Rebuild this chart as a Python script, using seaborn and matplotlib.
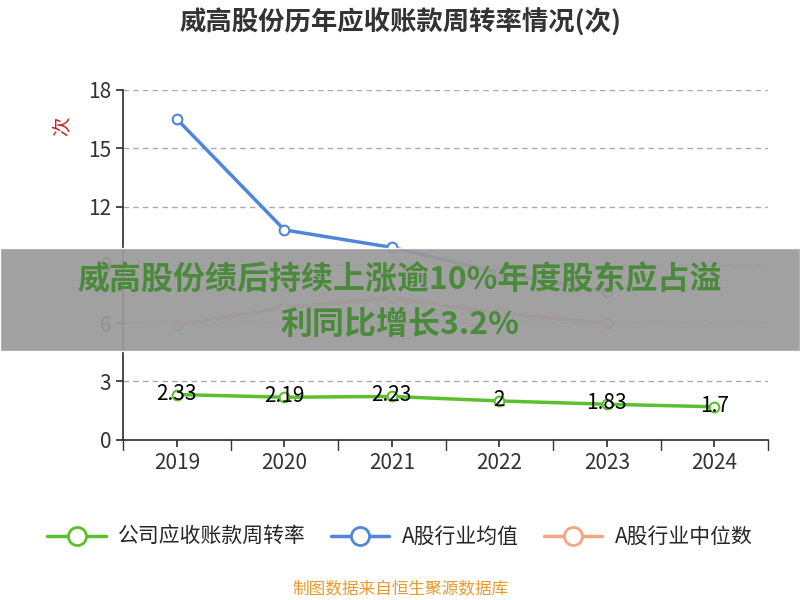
import matplotlib
matplotlib.use("Agg")
import matplotlib.pyplot as plt
import seaborn as sns
import numpy as np
import pandas as pd
from matplotlib.patches import Rectangle
from matplotlib.lines import Line2D

sns.set_theme(style="white")
plt.rcParams['font.family'] = ['Noto Sans CJK SC', 'DejaVu Sans']

years = ["2019", "2020", "2021", "2022", "2023", "2024"]
company = [2.33, 2.19, 2.23, 2.0, 1.83, 1.7]
industry_avg = [16.5, 10.8, 9.9, 8.6, 7.6, np.nan]
industry_med = [5.9, 6.8, 7.3, 6.5, 6.0, np.nan]
labels = ["2.33", "2.19", "2.23", "2", "1.83", "1.7"]

fig = plt.figure(figsize=(8, 6), dpi=100)
ax = fig.add_axes([0.154, 0.267, 0.806, 0.583])
x = np.arange(len(years))
df = pd.DataFrame({"x": x, "c": company, "a": industry_avg, "m": industry_med})
sns.lineplot(data=df, x="x", y="m", ax=ax, color="#f4a582", lw=2.5, marker="o",
             markersize=7, markerfacecolor="white", markeredgecolor="#f4a582", markeredgewidth=1.5)
sns.lineplot(data=df, x="x", y="a", ax=ax, color="#4f86d9", lw=2.5, marker="o",
             markersize=7, markerfacecolor="white", markeredgecolor="#4f86d9", markeredgewidth=1.5)
sns.lineplot(data=df, x="x", y="c", ax=ax, color="#5cc02c", lw=2.5, marker="o",
             markersize=7, markerfacecolor="white", markeredgecolor="#5cc02c", markeredgewidth=1.5)
for xi, v, t in zip(x, company, labels):
    ax.text(xi, v + 0.05, t, ha="center", va="center", fontsize=15, color="black", zorder=5)

ax.set_xlim(-0.5, 5.5)
ax.set_ylim(0, 18)
ax.set_yticks([0, 3, 6, 9, 12, 15, 18])
ax.set_xticks(x)
ax.set_xticklabels(years)
ax.tick_params(axis="both", labelsize=15, colors="#333333", length=5, left=True, bottom=True)
for yv in [3, 6, 9, 12, 15, 18]:
    ax.axhline(yv, color="#aaaaaa", lw=1, ls=(0, (4, 3)), zorder=0)
for s in ["top", "right"]:
    ax.spines[s].set_visible(False)
ax.spines["left"].set_color("#333333")
ax.spines["bottom"].set_color("#333333")
ax.set_xlabel("")
ax.set_ylabel("")
for i in range(7):
    ax.axvline(i - 0.5, ymin=-0.03, ymax=0, color="#333333", lw=1, clip_on=False)
fig.text(0.078, 0.79, "次", color="#cc2222", fontsize=14, rotation=90, ha="center", va="center")

fig.text(0.5, 0.962, "威高股份历年应收账款周转率情况(次)", ha="center", va="center",
         fontsize=19, fontweight="heavy", color="#333333")

handles = [Line2D([], [], color=c, lw=2.5, marker="o", markersize=13, markerfacecolor="white",
                  markeredgecolor=c, markeredgewidth=2)
           for c in ["#5cc02c", "#4f86d9", "#f4a582"]]
fig.legend(handles, ["公司应收账款周转率", "A股行业均值", "A股行业中位数"], loc="center",
           bbox_to_anchor=(0.5, 0.105), ncol=3, frameon=False, fontsize=15,
           handlelength=2.8, columnspacing=1.2, handletextpad=0.6)

fig.patches.append(Rectangle((0, 0.415), 1, 0.172, transform=fig.transFigure,
                             facecolor="#9a9a9a", alpha=0.93, zorder=10))
fig.text(0.5, 0.532, "威高股份绩后持续上涨逾10%年度股东应占溢", ha="center", va="center",
         fontsize=23, fontweight="heavy", color="#4a8a3a", zorder=11)
fig.text(0.5, 0.458, "利同比增长3.2%", ha="center", va="center",
         fontsize=23, fontweight="heavy", color="#4a8a3a", zorder=11)
fig.text(0.5, 0.017, "制图数据来自恒生聚源数据库", ha="center", va="center",
         fontsize=12, color="#e89a2c")

fig.savefig("out.png", dpi=100)
